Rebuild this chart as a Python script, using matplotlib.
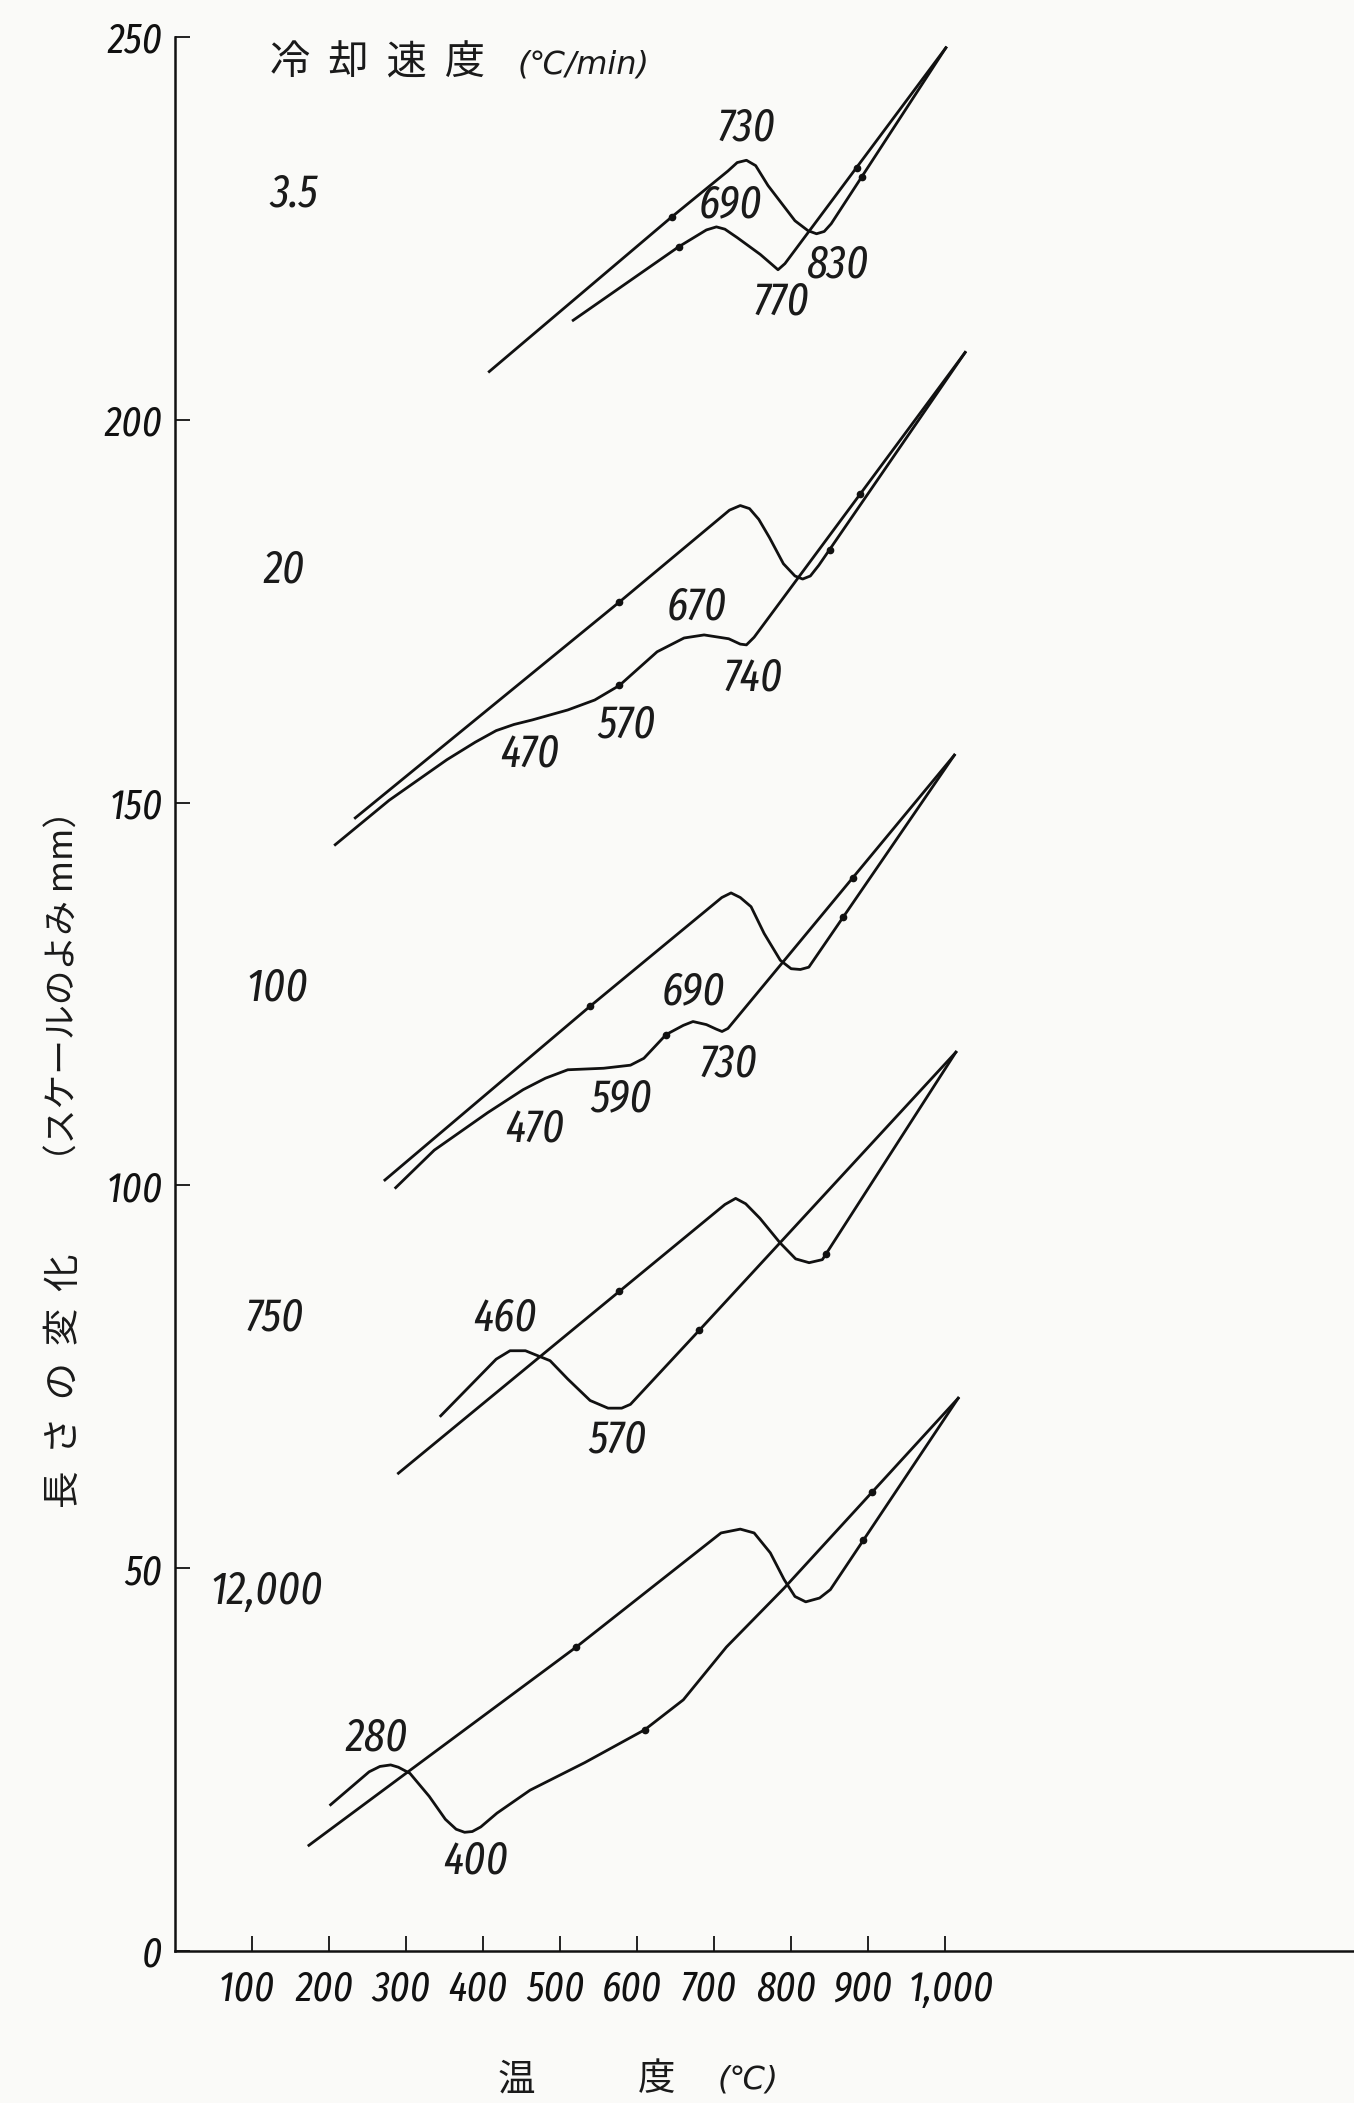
import os
import numpy as np
import matplotlib.pyplot as plt
import matplotlib.transforms as mtransforms
from matplotlib import font_manager
from matplotlib.font_manager import FontProperties

plt.rcParams['font.family'] = ['Noto Sans CJK JP', 'DejaVu Sans']
bg = '#fafaf8'

# cooling rates (deg C/min) and where their labels sit
rates = ['3.5', '20', '100', '750', '12,000']
rate_x = [155, 142, 133, 130, 119]
rate_y = [229.5, 180.4, 125.8, 82.7, 47.0]

# heating / cooling branches: temperature (C) vs. scale reading (mm)
heat_35_t = [408, 645, 718, 730, 742, 754, 770, 805, 822, 833, 843, 852, 1001]
heat_35_l = [206.3, 226.5, 232.5, 233.6, 233.9, 233.2, 230.6, 226.0, 224.7, 224.3, 224.6, 225.6, 248.6]
cool_35_t = [517, 654, 690, 703, 714, 730, 760, 775, 783, 792, 1001]
cool_35_l = [213.0, 222.6, 224.8, 225.2, 224.9, 223.8, 221.6, 220.3, 219.6, 220.4, 248.6]

heat_20_t = [234, 577, 720, 734, 746, 758, 772, 790, 805, 815, 825, 836, 1026]
heat_20_l = [148.0, 176.2, 188.2, 188.8, 188.4, 187.0, 184.6, 181.2, 179.6, 179.2, 179.6, 181.0, 208.8]
cool_20_t = [208, 278, 353, 390, 417, 440, 464, 510, 545, 577, 626, 661, 687, 719, 734, 742, 752, 1026]
cool_20_l = [144.5, 150.3, 155.6, 157.9, 159.4, 160.2, 160.8, 162.1, 163.4, 165.3, 169.7, 171.5, 171.9, 171.4, 170.7, 170.6, 171.6, 208.8]

heat_100_t = [272.5, 539, 710, 722, 734, 748, 765, 786, 800, 812, 823, 1012]
heat_100_l = [100.7, 123.4, 137.6, 138.2, 137.6, 136.4, 132.9, 129.4, 128.3, 128.2, 128.5, 156.2]
cool_100_t = [286.5, 336.6, 406, 452, 481, 510, 556.6, 591.4, 608.8, 637.7, 660, 672.6, 690, 703, 710.3, 718, 1012]
cool_100_l = [99.7, 104.6, 109.5, 112.5, 114.0, 115.1, 115.3, 115.7, 116.6, 119.7, 120.9, 121.4, 121.0, 120.4, 120.1, 120.5, 156.2]

heat_750_t = [290, 714, 728, 741, 759.5, 785.6, 805.9, 823.4, 840.6, 1014]
heat_750_l = [62.4, 97.5, 98.3, 97.6, 95.7, 92.5, 90.4, 89.9, 90.3, 117.4]
cool_750_t = [345, 417, 435, 455, 487, 510, 539, 562.3, 580, 591.4, 681, 785.6, 1014]
cool_750_l = [69.9, 77.3, 78.4, 78.4, 77.1, 74.7, 71.9, 70.9, 70.9, 71.4, 81.1, 92.5, 117.4]

heat_12k_t = [173.8, 521, 709, 734, 752, 773, 791, 805, 819, 837, 851, 1017]
heat_12k_l = [13.8, 39.7, 54.6, 55.1, 54.6, 52.0, 48.5, 46.3, 45.6, 46.1, 47.2, 72.2]
cool_12k_t = [202, 252, 266, 280, 290, 305, 330, 351, 365, 376, 386, 397, 418, 461, 532, 610, 660, 716, 791, 1017]
cool_12k_l = [19.1, 23.4, 24.1, 24.3, 24.0, 23.2, 20.2, 17.2, 15.9, 15.5, 15.6, 16.2, 18.0, 21.0, 24.6, 28.9, 32.8, 39.7, 47.4, 72.2]

# temperatures where the little direction arrows sit on each branch
heat_arrows = [[645, 892], [577, 850], [539, 868], [577, 845], [521, 894]]
cool_arrows = [[654, 885], [577, 890], [637, 880], [681], [610, 905]]

# transformation temperatures written next to the curves
temp_labels = ['730', '690', '770', '830',
               '670', '740', '570', '470',
               '690', '730', '590', '470',
               '460', '570',
               '280', '400']
temp_label_x = [742, 721, 788, 861,
                678, 751, 586, 461,
                673, 719, 580, 467,
                429, 574,
                262, 390]
temp_label_y = [238.1, 228.1, 215.4, 220.2,
                175.6, 166.2, 160.1, 156.4,
                125.3, 115.9, 111.3, 107.4,
                82.7, 66.7,
                27.8, 11.7]

x_ticks = [100, 200, 300, 400, 500, 600, 700, 800, 900, 1000]
x_tick_labels = ['100', '200', '300', '400', '500', '600', '700', '800', '900', '1,000']
y_ticks = [0, 50, 100, 150, 200, 250]

heats = [(heat_35_t, heat_35_l), (heat_20_t, heat_20_l), (heat_100_t, heat_100_l),
         (heat_750_t, heat_750_l), (heat_12k_t, heat_12k_l)]
cools = [(cool_35_t, cool_35_l), (cool_20_t, cool_20_l), (cool_100_t, cool_100_l),
         (cool_750_t, cool_750_l), (cool_12k_t, cool_12k_l)]


def narrow_font():
    # the numbers in the original are a tall, very narrow italic; look for a condensed face
    best, best_score = None, -1
    for f in font_manager.fontManager.ttflist:
        base = os.path.basename(f.fname).lower()
        tag = (f.name + ' ' + base + ' ' + str(f.stretch)).lower()
        flat = tag.replace(' ', '').replace('-', '')
        if not ('condensed' in tag or 'narrow' in tag):
            continue
        if 'mono' in tag or 'cjk' in tag or ('serif' in tag and 'sans' not in tag):
            continue
        score = 1
        if f.style in ('italic', 'oblique'):
            score += 4
        if f.weight in (400, 'normal', 'regular'):
            score += 2
        if 'extracondensed' in flat:
            score += 3
        elif 'ultracondensed' in flat:
            score += 1
        elif 'semicondensed' not in flat:
            score += 2
        if 'sans' in tag:
            score += 1
        if score > best_score:
            best, best_score = f, score
    return best


nf = narrow_font()
if nf is not None:
    tick_size, label_size = 30, 33
    num_style = 'normal' if nf.style in ('italic', 'oblique') else 'italic'
    num_fp = lambda size: FontProperties(fname=nf.fname, size=size, style=num_style)
else:
    tick_size, label_size = 22, 24
    num_fp = lambda size: FontProperties(family='DejaVu Sans', size=size, style='italic')

fig = plt.figure(figsize=(13.54, 21.03), dpi=100, facecolor=bg)
ax = fig.add_axes([0.1293, 0.0723, 0.8707, 0.9101])
ax.set_facecolor(bg)
ax.set_xlim(0, 1531)
ax.set_ylim(0, 250)

for (ht, hl), (ct, cl), ha, ca in zip(heats, cools, heat_arrows, cool_arrows):
    ax.plot(ht, hl, color='#111111', lw=2.0, solid_joinstyle='round')
    ax.plot(ct, cl, color='#111111', lw=2.0, solid_joinstyle='round')
    ax.plot(ha, np.interp(ha, ht, hl), 'o', color='#111111', ms=4.5)
    ax.plot(ca, np.interp(ca, ct, cl), 'o', color='#111111', ms=4.5)

for txt, x, y in zip(temp_labels, temp_label_x, temp_label_y):
    ax.text(x, y, txt, ha='center', va='center', fontproperties=num_fp(label_size), color='#1a1a1a')

for txt, x, y in zip(rates, rate_x, rate_y):
    ax.text(x, y, txt, ha='center', va='center', fontproperties=num_fp(label_size), color='#1a1a1a')

ax.text(123, 246.6, '冷  却  速  度', ha='left', va='center', fontsize=29, color='#1a1a1a')
ax.text(445, 246.4, '(℃/min)', ha='left', va='center', fontsize=23, style='italic',
        family=['DejaVu Sans'], color='#1a1a1a')

for s in ['top', 'right']:
    ax.spines[s].set_visible(False)
for s in ['left', 'bottom']:
    ax.spines[s].set_linewidth(1.8)
    ax.spines[s].set_color('#111111')

ax.set_xticks(x_ticks)
ax.set_xticklabels(x_tick_labels)
ax.set_yticks(y_ticks)
ax.set_yticklabels([str(v) for v in y_ticks])
ax.tick_params(axis='x', direction='in', length=11, width=1.3, pad=13, colors='#111111')
ax.tick_params(axis='y', direction='in', length=11, width=1.3, pad=9, colors='#111111')
xlabs = ax.get_xticklabels()
for i, lab in enumerate(xlabs):
    lab.set_fontproperties(num_fp(tick_size))
    dx = 0.06 if i == len(xlabs) - 1 else -0.05
    lab.set_transform(lab.get_transform() + mtransforms.ScaledTranslation(dx, 0, fig.dpi_scale_trans))
for lab in ax.get_yticklabels():
    lab.set_fontproperties(num_fp(tick_size))

fig.text(516 / 1354, 1 - 2080 / 2103, '温', ha='center', va='center', fontsize=27, color='#1a1a1a')
fig.text(657 / 1354, 1 - 2080 / 2103, '度', ha='center', va='center', fontsize=27, color='#1a1a1a')
fig.text(748 / 1354, 1 - 2080 / 2103, '(℃)', ha='center', va='center', fontsize=23, style='italic',
         family=['DejaVu Sans'], color='#1a1a1a')

fig.text(64 / 1354, 1 - 1381 / 2103, '長  さ  の  変  化', rotation=90, ha='center', va='center',
         fontsize=27, color='#1a1a1a')
fig.text(64 / 1354, 1 - 985 / 2103, '（スケールのよみ mm）', rotation=90, ha='center', va='center',
         fontsize=25, color='#1a1a1a')

fig.savefig('out.png', dpi=100, facecolor=bg)
